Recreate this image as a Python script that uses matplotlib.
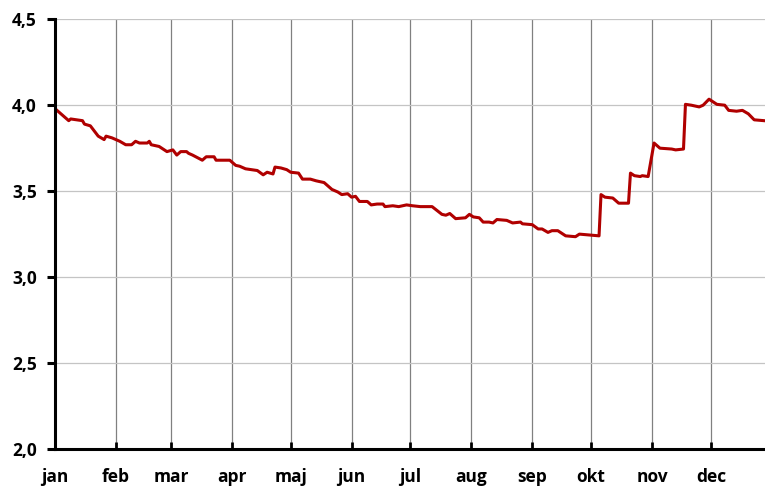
import matplotlib
matplotlib.use("Agg")
import matplotlib.pyplot as plt
from matplotlib.ticker import FuncFormatter

# day of year (0 = 1 jan) and value
days = [0, 7, 8, 14, 15, 18, 22, 25, 26, 29, 31, 33, 36, 39, 41, 43, 47, 48,
        49, 53, 57, 60, 62, 64, 67, 68, 70, 75, 77, 81, 82, 89, 92, 94, 97,
        103, 106, 108, 111, 112, 115, 118, 120, 124, 126, 130, 133, 137, 141,
        144, 146, 149, 151, 153, 155, 159, 161, 164, 167, 168, 172, 175, 179,
        182, 186, 189, 192, 197, 199, 201, 204, 209, 211, 213, 216, 218, 221,
        223, 225, 230, 233, 237, 238, 243, 246, 248, 251, 253, 256, 260, 265,
        267, 277, 278, 280, 284, 287, 292, 293, 295, 298, 299, 302, 305, 308,
        314, 316, 320, 321, 324, 328, 330, 333, 337, 341, 343, 347, 350, 353,
        356, 361]
values = [3.98, 3.91, 3.92, 3.91, 3.89, 3.88, 3.82, 3.80, 3.82, 3.81, 3.80,
          3.79, 3.77, 3.77, 3.79, 3.78, 3.78, 3.79, 3.77, 3.76, 3.73, 3.74,
          3.71, 3.73, 3.73, 3.72, 3.71, 3.68, 3.70, 3.70, 3.68, 3.68, 3.65,
          3.645, 3.63, 3.62, 3.595, 3.61, 3.60, 3.64, 3.635, 3.625, 3.61,
          3.605, 3.57, 3.57, 3.56, 3.55, 3.51, 3.495, 3.48, 3.485, 3.465,
          3.47, 3.44, 3.44, 3.42, 3.425, 3.425, 3.41, 3.415, 3.41, 3.42,
          3.415, 3.41, 3.41, 3.41, 3.365, 3.36, 3.37, 3.34, 3.345, 3.365,
          3.35, 3.345, 3.32, 3.32, 3.315, 3.335, 3.33, 3.315, 3.32, 3.31,
          3.305, 3.28, 3.28, 3.26, 3.27, 3.27, 3.24, 3.235, 3.25, 3.24, 3.48,
          3.465, 3.46, 3.43, 3.43, 3.605, 3.59, 3.585, 3.59, 3.585, 3.78,
          3.75, 3.745, 3.74, 3.745, 4.005, 4.0, 3.99, 4.0, 4.035, 4.005, 4.0,
          3.97, 3.965, 3.97, 3.95, 3.915, 3.91]

months = ["jan", "feb", "mar", "apr", "maj", "jun", "jul", "aug", "sep",
          "okt", "nov", "dec"]
month_start = [0, 31, 59, 90, 120, 151, 181, 212, 243, 273, 304, 334]
y_ticks = [2.0, 2.5, 3.0, 3.5, 4.0, 4.5]

plt.rcParams['font.family'] = ['Open Sans', 'DejaVu Sans']

fig = plt.figure(figsize=(7.65, 4.9), dpi=100)
ax = fig.add_axes([0.0719, 0.0837, 0.9281, 0.877])

for d in month_start[1:]:
    ax.axvline(d, color='#808080', lw=0.9, zorder=1)
for v in y_ticks[1:]:
    ax.axhline(v, color='#c4c4c4', lw=0.9, zorder=1)

ax.plot(days, values, color='#b00000', lw=2.2, zorder=3)

ax.set_xlim(0, 361.5)
ax.set_ylim(2.0, 4.5)
ax.set_xticks(month_start)
ax.set_xticklabels(months)
ax.set_yticks(y_ticks)
ax.yaxis.set_major_formatter(FuncFormatter(lambda v, p: f"{v:.1f}".replace('.', ',')))

for s in ['top', 'right']:
    ax.spines[s].set_visible(False)
ax.spines['left'].set_linewidth(2.2)
ax.spines['bottom'].set_linewidth(2.2)
ax.spines['left'].set_zorder(4)
ax.spines['bottom'].set_zorder(4)

ax.tick_params(axis='y', direction='out', length=6, width=2.2, pad=7,
               labelsize=12.5)
ax.tick_params(axis='x', direction='in', length=5, width=2.0, pad=14,
               labelsize=12.5)
for lab in ax.get_xticklabels() + ax.get_yticklabels():
    lab.set_fontweight('bold')

fig.savefig("out.png", dpi=100)
